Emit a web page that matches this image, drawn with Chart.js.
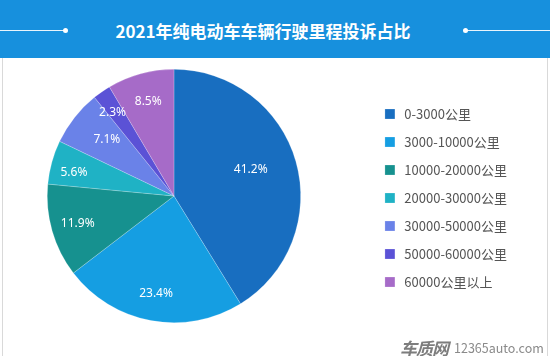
<!DOCTYPE html>
<html>
<head>
<meta charset="utf-8">
<script src="https://cdn.jsdelivr.net/npm/chart.js@4"></script>
<style>
  html, body { margin: 0; padding: 0; }
  body { width: 550px; height: 356px; overflow: hidden; background: #fff; position: relative; font-family: "Noto Sans CJK SC", "Noto Sans", sans-serif; }
  #header { position: absolute; left: 0; top: 0; width: 550px; height: 58px; background: #1790dd; z-index: 2; }
  #title { position: absolute; left: 0; top: 0; width: 526px; height: 58px; line-height: 62px; text-align: center; color: #fff; font-weight: bold; font-size: 17px; }
  .hline { position: absolute; top: 30px; height: 1px; background: rgba(255,255,255,0.9); }
  .dot { position: absolute; top: 28px; width: 5px; height: 5px; border-radius: 50%; background: #fff; }
  #frameL { position: absolute; left: 2px; top: 58px; width: 1px; height: 298px; background: #d9d9d9; z-index: 2; }
  #frameR { position: absolute; left: 547px; top: 58px; width: 1px; height: 298px; background: #d9d9d9; z-index: 2; }
  #chart { position: absolute; left: -22px; top: 0; z-index: 1; }
  #wm { position: absolute; left: 400px; top: 333px; z-index: 2; color: #8a8a8a; white-space: nowrap; }
  #wm .logo { font-size: 17px; font-weight: bold; font-style: italic; color: #7d7d7d; letter-spacing: -1px; vertical-align: middle; }
  #wm .site { font-size: 12.5px; vertical-align: middle; margin-left: 6px; color: #8a8a8a; }
</style>
</head>
<body>
<div id="header">
  <div class="hline" style="left:0; width:64px;"></div>
  <div class="dot" style="left:63px;"></div>
  <div class="hline" style="left:466px; width:84px;"></div>
  <div class="dot" style="left:463px;"></div>
  <div id="title">2021年纯电动车车辆行驶里程投诉占比</div>
</div>
<div id="frameL"></div>
<div id="frameR"></div>
<canvas id="chart" width="572" height="356"></canvas>
<div id="wm"><span class="logo">车质网</span><span class="site">12365auto.com</span></div>
<script>
// ---- data ----
const categories = ['0-3000公里', '3000-10000公里', '10000-20000公里', '20000-30000公里', '30000-50000公里', '50000-60000公里', '60000公里以上'];
const shares = [41.2, 23.4, 11.9, 5.6, 7.1, 2.3, 8.5];
const percentLabels = ['41.2%', '23.4%', '11.9%', '5.6%', '7.1%', '2.3%', '8.5%'];

// ---- styling ----
const sliceColors = ['#186ec0', '#159ee2', '#16918f', '#1fb2c5', '#6a82e8', '#5b52d6', '#a66bc8'];
const labelRadiusFrac = [0.64, 0.78, 0.79, 0.81, 0.69, 0.82, 0.77];
const labelAngleShiftDeg = [-3, 0, 0, -2.5, 1.5, -1.5, 0];

const sliceLabels = {
  id: 'sliceLabels',
  afterDatasetsDraw(chart) {
    const ctx = chart.ctx;
    const meta = chart.getDatasetMeta(0);
    ctx.save();
    ctx.fillStyle = '#ffffff';
    ctx.font = '12px "Noto Sans", "Noto Sans CJK SC", sans-serif';
    ctx.textAlign = 'center';
    ctx.textBaseline = 'middle';
    meta.data.forEach((arc, i) => {
      const p = arc.getProps(['x', 'y', 'startAngle', 'endAngle', 'outerRadius']);
      const a = (p.startAngle + p.endAngle) / 2 + labelAngleShiftDeg[i] * Math.PI / 180;
      const r = p.outerRadius * labelRadiusFrac[i];
      ctx.fillText(percentLabels[i], p.x + r * Math.cos(a), p.y + r * Math.sin(a));
    });
    ctx.restore();
  }
};

new Chart(document.getElementById('chart'), {
  type: 'pie',
  data: {
    labels: categories,
    datasets: [{
      data: shares,
      backgroundColor: sliceColors,
      borderColor: 'rgba(255,255,255,0.35)',
      borderWidth: 0.6
    }]
  },
  options: {
    responsive: false,
    animation: false,
    devicePixelRatio: 1,
    layout: { padding: { top: 69, bottom: 33, left: 0, right: 33 } },
    plugins: {
      title: { display: false },
      tooltip: { enabled: false },
      legend: {
        position: 'right',
        align: 'center',
        title: { display: true, text: ' ', font: { size: 4, lineHeight: 1 }, padding: 0 },
        labels: {
          boxWidth: 10,
          boxHeight: 10,
          padding: 15,
          color: '#555555',
          font: { size: 13, family: '"Noto Sans CJK SC", "Noto Sans", sans-serif' },
          generateLabels(chart) {
            const items = Chart.overrides.pie.plugins.legend.labels.generateLabels(chart);
            items.forEach(it => { it.text = ' ' + it.text; });
            return items;
          }
        }
      }
    }
  },
  plugins: [sliceLabels]
});
</script>
</body>
</html>
